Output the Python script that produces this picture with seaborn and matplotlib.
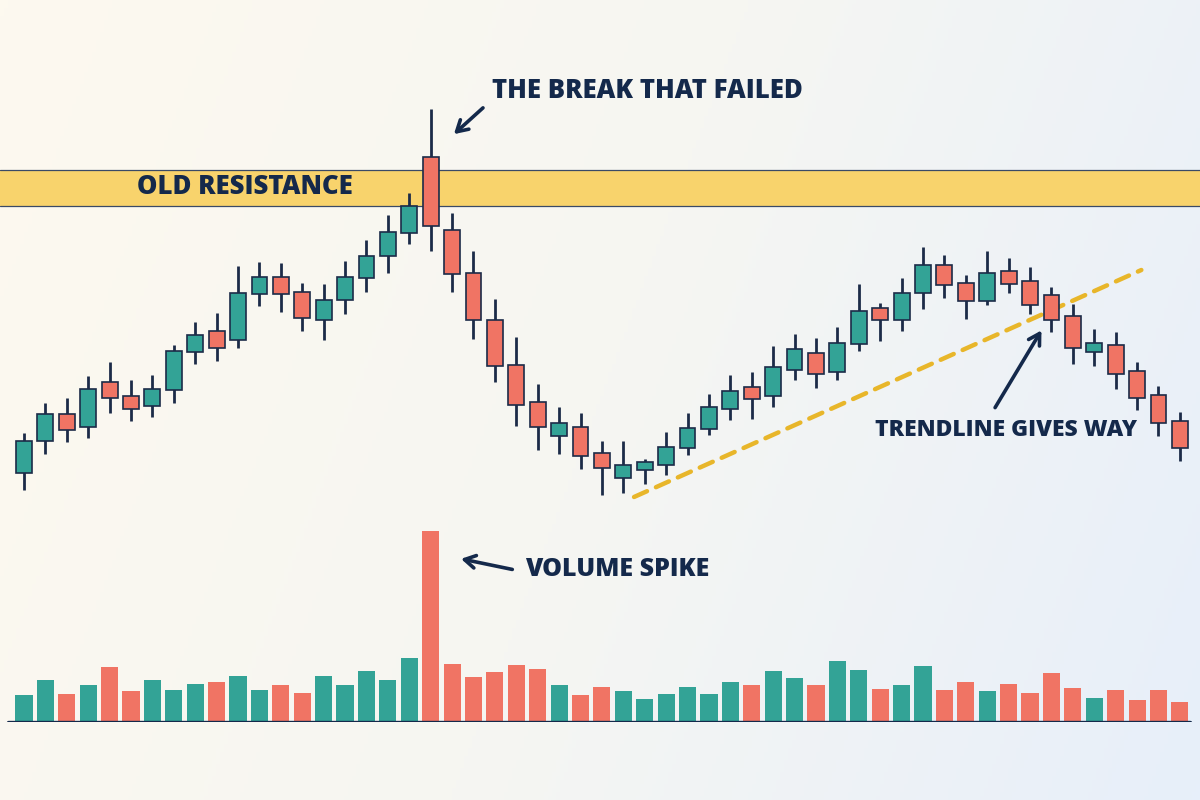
import numpy as np
import pandas as pd
import matplotlib
matplotlib.use("Agg")
import matplotlib.pyplot as plt
from matplotlib.colors import LinearSegmentedColormap
import seaborn as sns

# ---------------- data ----------------
opens = [32.7, 35.9, 38.6, 37.3, 41.8, 40.4, 39.4, 41.0, 44.8, 46.9,
         46.0, 50.6, 52.3, 50.8, 48.0, 50.0, 52.2, 54.4, 56.7, 64.3,
         57.0, 52.7, 48.0, 43.5, 39.8, 36.4, 37.3, 34.7, 32.2, 33.0,
         33.5, 35.2, 37.1, 39.1, 41.3, 40.4, 43.0, 44.7, 42.8, 45.6,
         49.2, 48.0, 50.7, 53.5, 51.7, 49.9, 52.9, 51.9, 50.5, 48.4,
         44.8, 45.5, 42.9, 40.5, 37.9]
highs = [36.7, 39.7, 40.2, 42.4, 43.8, 42.0, 42.5, 45.5, 47.8, 48.7,
         53.4, 53.8, 53.7, 51.7, 51.6, 53.9, 56.0, 58.5, 60.7, 69.1,
         58.7, 54.9, 50.1, 46.3, 41.6, 39.3, 38.7, 35.9, 35.9, 34.1,
         36.8, 38.7, 40.6, 42.5, 42.8, 45.4, 46.6, 46.2, 47.3, 51.6,
         49.7, 52.2, 55.3, 54.5, 52.5, 54.9, 54.2, 53.3, 51.3, 49.6,
         47.1, 46.8, 43.8, 41.4, 38.8]
lows = [31.0, 34.6, 35.8, 36.2, 38.7, 37.9, 38.3, 39.7, 43.6, 43.9,
        45.2, 49.4, 48.8, 46.9, 46.0, 48.6, 50.8, 52.7, 55.6, 54.9,
        50.8, 46.1, 41.8, 37.4, 35.0, 34.6, 33.1, 30.5, 30.7, 31.6,
        32.5, 34.5, 36.5, 38.0, 38.1, 39.3, 42.0, 41.2, 42.0, 44.9,
        45.9, 46.9, 49.1, 50.2, 48.1, 49.5, 50.7, 48.6, 46.8, 43.6,
        43.4, 41.1, 39.0, 36.4, 33.9]
closes = [35.9, 38.6, 37.0, 41.1, 40.2, 39.1, 41.1, 44.9, 46.5, 45.2,
          50.7, 52.3, 50.6, 48.2, 50.0, 52.3, 54.4, 56.8, 59.4, 57.4,
          52.6, 48.0, 43.4, 39.5, 37.3, 37.7, 34.4, 33.2, 33.5, 33.8,
          35.3, 37.2, 39.3, 40.9, 40.1, 43.3, 45.1, 42.6, 45.7, 48.9,
          48.0, 50.7, 53.5, 51.5, 49.9, 52.7, 51.6, 49.5, 48.0, 45.2,
          45.7, 42.6, 40.2, 37.7, 35.2]
volumes = [675, 1050, 700, 925, 1375, 775, 1050, 800, 950, 1000,
           1150, 800, 925, 725, 1150, 925, 1275, 1050, 1600, 4775,
           1450, 1125, 1250, 1425, 1325, 925, 675, 875, 775, 575,
           700, 875, 700, 1000, 925, 1275, 1100, 925, 1525, 1300,
           825, 925, 1400, 800, 1000, 775, 950, 725, 1225, 850,
           600, 800, 550, 800, 500]
resistance_zone = [59.4, 63.0]
trend_x = [28.5, 52.2]
trend_y = [30.3, 53.0]

# ---------------- style ----------------
TEAL = "#33A396"
RED = "#F07464"
NAVY = "#14294B"
EDGE = "#1C2B48"
GOLD = "#E8B62A"
BAND = "#F8D36C"
FS = 18.5
FW = 800

sns.set_theme(style="white")
plt.rcParams["font.family"] = ["Open Sans", "DejaVu Sans"]

df = pd.DataFrame({"idx": np.arange(len(opens)), "open": opens, "high": highs,
                   "low": lows, "close": closes, "volume": volumes})
df["dir"] = np.where(df["close"] >= df["open"], "up", "down")
palette = {"up": TEAL, "down": RED}

fig = plt.figure(figsize=(12, 8), dpi=100)

# background gradient
bg = fig.add_axes([0, 0, 1, 1], zorder=-10)
gx, gy = np.meshgrid(np.linspace(0, 1, 300), np.linspace(0, 1, 200))
grad = 0.8 * gx + 0.2 * gy
cmap = LinearSegmentedColormap.from_list("bg", ["#FDF9EF", "#F6F6F2", "#E7EFFA"])
bg.imshow(grad, cmap=cmap, aspect="auto", extent=[0, 1, 0, 1], origin="upper")
bg.axis("off")

xlim = (-1.12, 54.94)
arrow = dict(arrowstyle="->,head_length=0.65,head_width=0.38", color=NAVY, lw=2.6)

# ---------------- volume ----------------
axv = fig.add_axes([0, 78 / 800, 1, 200 / 800])
axv.set_facecolor("none")
sns.barplot(data=df, x="idx", y="volume", hue="dir", palette=palette,
            dodge=False, native_scale=True, width=0.8, legend=False,
            saturation=1, ax=axv, zorder=2, linewidth=0)
axv.set_xlim(*xlim)
axv.set_ylim(0, 5000)
axv.axhline(0, xmin=8 / 1200, xmax=1190 / 1200, color=NAVY, lw=2.4, zorder=5)
axv.axis("off")
axv.annotate("", xy=(20.29, 4093), xytext=(22.94, 3800), arrowprops=arrow)
axv.text(23.41, 3800, "VOLUME SPIKE", ha="left", va="center", fontsize=18,
         fontweight=FW, color=NAVY)

# ---------------- price ----------------
ax = fig.add_axes([0, 0, 1, 1])
ax.set_facecolor("none")
ax.set_xlim(*xlim)
ax.set_ylim(0, 80)
ax.axis("off")

ax.axhspan(resistance_zone[0], resistance_zone[1], color=BAND, zorder=1, lw=0)
for yv in resistance_zone:
    ax.axhline(yv, color="#3A4A66", lw=0.9, zorder=1.1)
ax.text(10.33, 61.3, "OLD RESISTANCE", ha="center", va="center", fontsize=FS,
        fontweight=FW, color=NAVY, zorder=2)

ax.plot(trend_x, trend_y, color=GOLD, lw=3.2, dashes=(3.2, 2.2),
        solid_capstyle="round", dash_capstyle="round", zorder=2)

cols = df["dir"].map(palette)
ax.vlines(df["idx"], df["low"], df["high"], color=EDGE, lw=2.0, zorder=3)
body_bot = np.minimum(df["open"], df["close"])
body_h = np.abs(df["close"] - df["open"])
ax.bar(df["idx"], body_h, bottom=body_bot, width=0.74, color=cols,
       edgecolor=EDGE, linewidth=1.2, zorder=4)

ax.annotate("", xy=(19.99, 66.4), xytext=(21.54, 69.4), arrowprops=arrow, zorder=5)
ax.text(21.87, 70.9, "THE BREAK THAT FAILED", ha="left", va="center",
        fontsize=FS, fontweight=FW, color=NAVY, zorder=5)

ax.annotate("", xy=(47.6, 47.2), xytext=(45.3, 39.0), arrowprops=arrow, zorder=5)
ax.text(45.9, 37.0, "TRENDLINE GIVES WAY", ha="center", va="center",
        fontsize=16.5, fontweight=FW, color=NAVY, zorder=5)

fig.savefig("out.png", dpi=100)
